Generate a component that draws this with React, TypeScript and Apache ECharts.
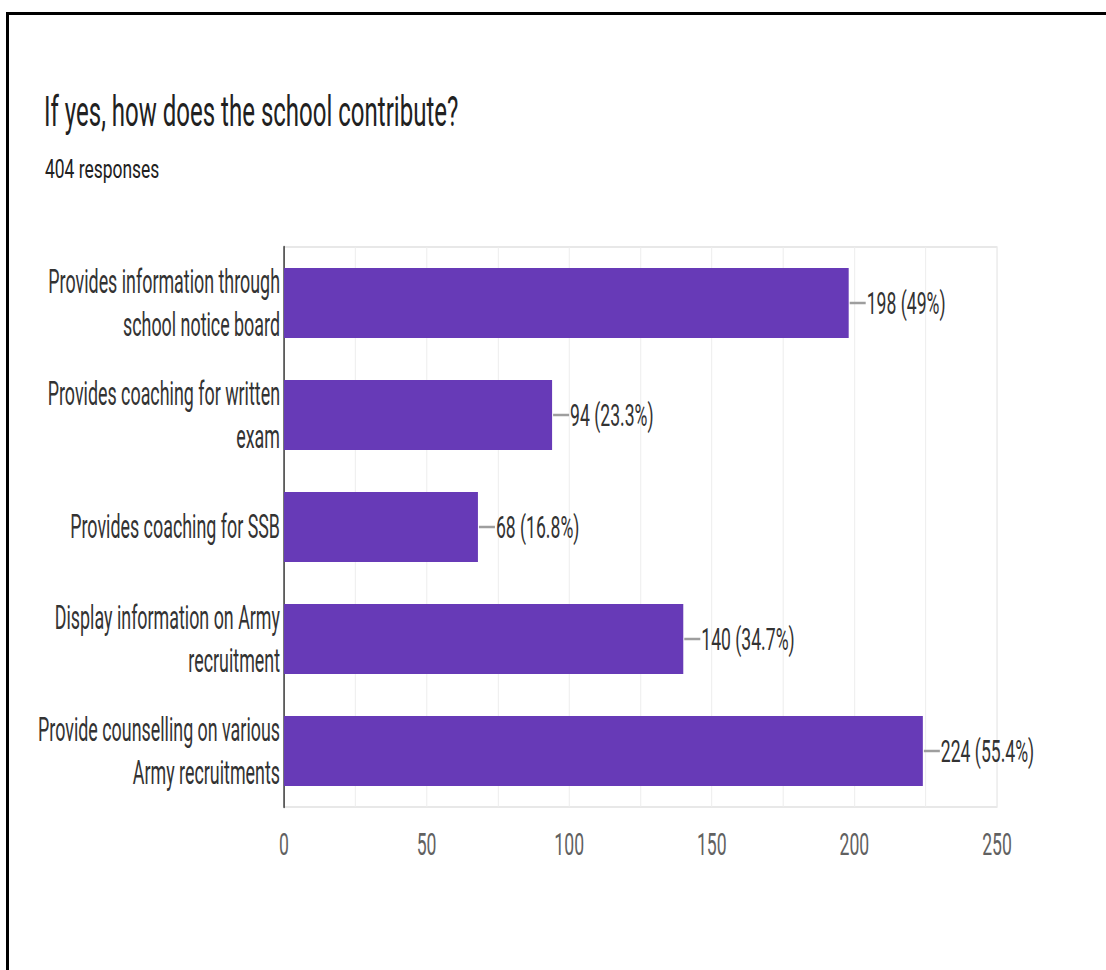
import React, { useEffect, useRef } from "react";
import * as echarts from "echarts";

const categories = [
  "Provides information through\nschool notice board",
  "Provides coaching for written\nexam",
  "Provides coaching for SSB",
  "Display information on Army\nrecruitment",
  "Provide counselling on various\nArmy recruitments",
];
const counts = [198, 94, 68, 140, 224];
const percentLabels = ["49%", "23.3%", "16.8%", "34.7%", "55.4%"];
const xTicks = [0, 50, 100, 150, 200, 250];

const TITLE = "If yes, how does the school contribute?";
const SUBTITLE = "404 responses";
const FONT = "Roboto, 'Noto Sans', sans-serif";

// the reference screenshot is horizontally compressed; the chart is drawn wider and squeezed back
const PAGE_W = 1106;
const PAGE_H = 970;
const SQUEEZE = 0.55;
const CHART_W = Math.round(PAGE_W / SQUEEZE);
const px = (x: number) => x / SQUEEZE; // page x -> chart x

export default function App() {
  const ref = useRef<HTMLDivElement>(null);
  useEffect(() => {
    if (!ref.current) return;
    const chart = echarts.init(ref.current, undefined, { renderer: "svg" });
    const option: any = {
      animation: false,
      backgroundColor: "#ffffff",
      textStyle: { fontFamily: FONT },
      graphic: [
        { type: "rect", shape: { x: px(6), y: 12, width: CHART_W, height: 3 }, style: { fill: "#000" } },
        { type: "rect", shape: { x: px(6), y: 12, width: px(3), height: PAGE_H }, style: { fill: "#000" } },
        {
          type: "text",
          x: px(44),
          y: 111,
          scaleX: 1.04,
          style: { text: TITLE, fontFamily: FONT, fontSize: 42, fill: "#212121", verticalAlign: "middle" },
        },
        {
          type: "text",
          x: px(45),
          y: 169,
          scaleX: 1.22,
          style: { text: SUBTITLE, fontFamily: FONT, fontSize: 26, fill: "#212121", verticalAlign: "middle" },
        },
      ],
      grid: {
        left: px(284),
        right: CHART_W - px(997),
        top: 247,
        bottom: PAGE_H - 807,
        outerBoundsMode: "none",
        containLabel: false,
        show: true,
        borderColor: "#e8e8e8",
        borderWidth: 1.8,
      },
      xAxis: {
        type: "value",
        min: 0,
        max: 250,
        interval: 25,
        axisLine: { show: false },
        axisTick: { show: false },
        splitLine: { show: true, lineStyle: { color: "#ececec", width: 1.8 } },
        axisLabel: {
          fontFamily: FONT,
          fontSize: 32,
          color: "#616161",
          margin: 21,
          formatter: (v: number) => (xTicks.indexOf(v) >= 0 ? String(v) : ""),
        },
      },
      yAxis: {
        type: "category",
        data: categories,
        inverse: true,
        axisLine: { show: true, lineStyle: { color: "#333", width: 2.6 } },
        axisTick: { show: false },
        splitLine: { show: false },
        axisLabel: {
          fontFamily: FONT,
          fontSize: 32.5,
          lineHeight: 43,
          color: "#333",
          margin: px(4),
          align: "right",
        },
      },
      series: [
        {
          type: "bar",
          data: counts,
          barWidth: 70,
          itemStyle: { color: "#673ab7" },
          label: {
            show: true,
            position: "right",
            distance: px(18),
            fontFamily: FONT,
            fontSize: 32,
            color: "#333",
            formatter: (p: any) => `${counts[p.dataIndex]} (${percentLabels[p.dataIndex]})`,
          },
          z: 2,
        },
        {
          type: "custom",
          data: counts.map((v, i) => [v, i]),
          encode: { x: 0, y: 1 },
          z: 3,
          renderItem: (params: any, api: any) => {
            const pt = api.coord([api.value(0), api.value(1)]);
            return {
              type: "line",
              shape: { x1: pt[0] + px(1), y1: pt[1], x2: pt[0] + px(17), y2: pt[1] },
              style: { stroke: "#9e9e9e", lineWidth: 2.5 },
            };
          },
        },
      ],
    };
    chart.setOption(option);
    return () => chart.dispose();
  }, []);
  return (
    <div
      style={{
        position: "absolute",
        left: 0,
        top: 0,
        width: PAGE_W,
        height: PAGE_H,
        overflow: "hidden",
        background: "#fff",
      }}
    >
      <div
        ref={ref}
        style={{
          width: CHART_W,
          height: PAGE_H,
          transform: `scaleX(${SQUEEZE})`,
          transformOrigin: "0 0",
        }}
      />
    </div>
  );
}
